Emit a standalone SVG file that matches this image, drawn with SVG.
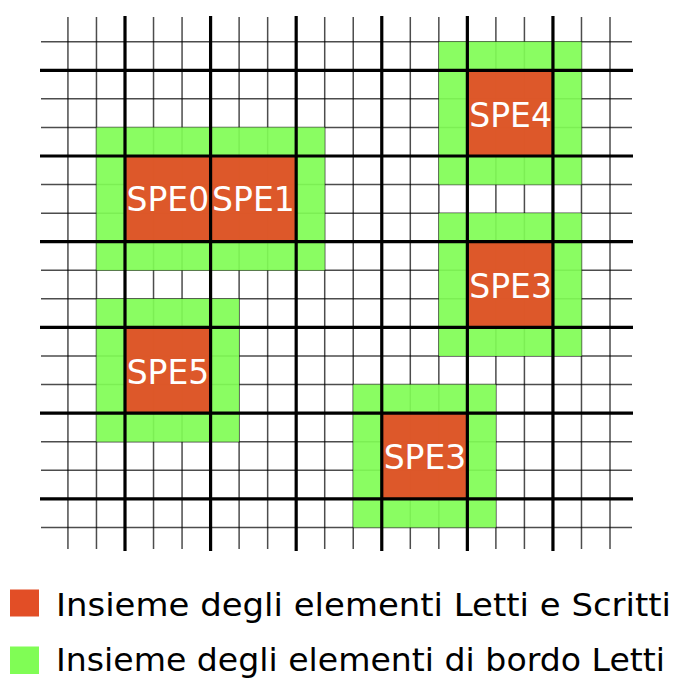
<svg xmlns="http://www.w3.org/2000/svg" width="676" height="678" viewBox="0 0 676 678">
  <style>
    .thin { stroke: #000; stroke-opacity: 0.7; stroke-width: 1.5; fill: none; }
    .thick { stroke: #000; stroke-width: 3.2; fill: none; }
    .halo { fill: #80fd55; fill-opacity: 0.92; }
    .core { fill: #e24e26; fill-opacity: 0.94; }
    .lbl { font-family: "DejaVu Sans", "Liberation Sans", sans-serif; font-size: 33px; fill: #fff; text-anchor: middle; }
    .leg { font-family: "DejaVu Sans", "Liberation Sans", sans-serif; font-size: 32px; fill: #000; }
  </style>
  <rect width="676" height="678" fill="#fff"/>

  <!-- fine grid: one line per element -->
  <g id="grid-fine" class="thin">
    <path d="M67.94 17V549M96.47 17V549M153.53 17V549M182.06 17V549M239.12 17V549M267.65 17V549M324.71 17V549M353.24 17V549M410.3 17V549M438.83 17V549M495.89 17V549M524.42 17V549M581.48 17V549M610.01 17V549"/>
    <path d="M41 41.73H632M41 98.87H632M41 127.44H632M41 184.58H632M41 213.15H632M41 270.29H632M41 298.86H632M41 356H632M41 384.57H632M41 441.71H632M41 470.28H632M41 527.42H632"/>
  </g>

  <!-- processor blocks: read border (green) around read/write set (red) -->
  <g id="spe0-spe1">
    <rect class="halo" x="96.47" y="127.44" width="228.24" height="142.85"/>
    <rect class="core" x="125" y="156.01" width="171.18" height="85.71"/>
    <text class="lbl" x="167.8" y="210.5">SPE0</text>
    <text class="lbl" x="253.4" y="210.5">SPE1</text>
  </g>
  <g id="spe4">
    <rect class="halo" x="438.83" y="41.73" width="142.65" height="142.85"/>
    <rect class="core" x="467.36" y="70.3" width="85.59" height="85.71"/>
    <text class="lbl" x="510.6" y="126.5">SPE4</text>
  </g>
  <g id="spe3-right">
    <rect class="halo" x="438.83" y="213.15" width="142.65" height="142.85"/>
    <rect class="core" x="467.36" y="241.72" width="85.59" height="85.71"/>
    <text class="lbl" x="510.6" y="297.5">SPE3</text>
  </g>
  <g id="spe5">
    <rect class="halo" x="96.47" y="298.86" width="142.65" height="142.85"/>
    <rect class="core" x="125" y="327.43" width="85.59" height="85.71"/>
    <text class="lbl" x="168" y="383.5">SPE5</text>
  </g>
  <g id="spe3-bottom">
    <rect class="halo" x="353.24" y="384.57" width="142.65" height="142.85"/>
    <rect class="core" x="381.77" y="413.14" width="85.59" height="85.71"/>
    <text class="lbl" x="425" y="469">SPE3</text>
  </g>

  <!-- coarse grid: every third line -->
  <g id="grid-coarse" class="thick">
    <path d="M125 16V551M210.59 16V551M296.18 16V551M381.77 16V551M467.36 16V551M552.95 16V551"/>
    <path d="M40 70.3H633M40 156.01H633M40 241.72H633M40 327.43H633M40 413.14H633M40 498.85H633"/>
  </g>

  <!-- legend -->
  <g id="legend">
    <rect x="10" y="589.5" width="29" height="27" fill="#e24e26"/>
    <text class="leg" x="56" y="616" textLength="615" lengthAdjust="spacingAndGlyphs">Insieme degli elementi Letti e Scritti</text>
    <rect x="10" y="646.5" width="29" height="27.5" fill="#80fd55"/>
    <text class="leg" x="56" y="671" textLength="609" lengthAdjust="spacingAndGlyphs">Insieme degli elementi di bordo Letti</text>
  </g>
</svg>
